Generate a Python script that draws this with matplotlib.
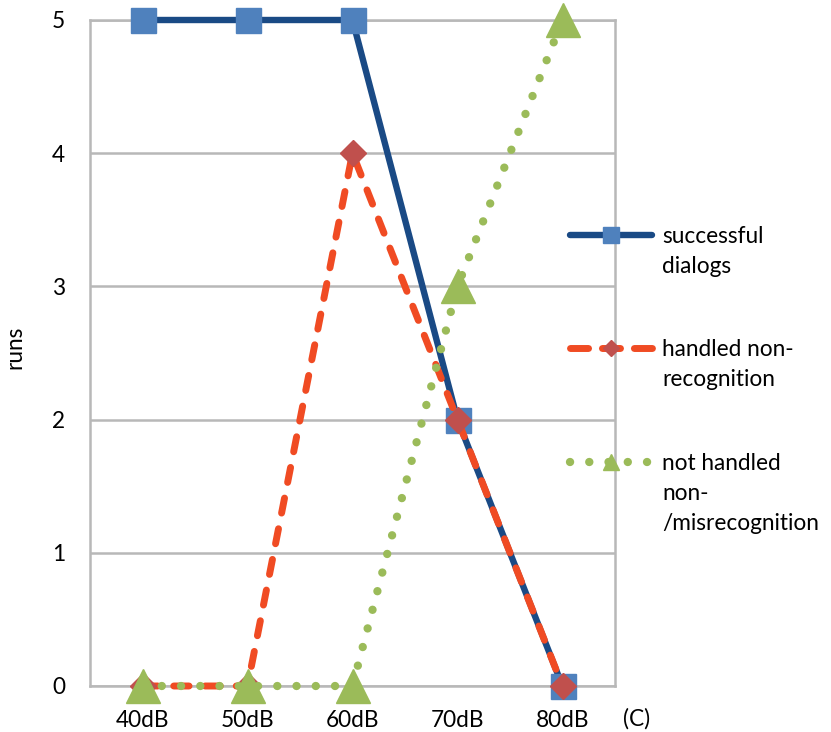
import matplotlib
matplotlib.use("Agg")
import matplotlib.pyplot as plt
from matplotlib.lines import Line2D

plt.rcParams['font.family'] = ['Lato', 'DejaVu Sans']

categories = ["40dB", "50dB", "60dB", "70dB", "80dB"]
successful = [5, 5, 5, 2, 0]
handled = [0, 0, 4, 2, 0]
not_handled = [0, 0, 0, 3, 5]
labels = [["successful", "dialogs"],
          ["handled non-", "recognition"],
          ["not handled", "non-", "/misrecognition"]]

BLUE_LINE = "#1a4a85"
BLUE_MARK = "#4f81bd"
RED_LINE = "#f04b23"
RED_MARK = "#c0504d"
GREEN = "#9bbb59"
GRID = "#b8b8b8"
FS = 16.3

W, H = 831, 732
fig = plt.figure(figsize=(W / 100, H / 100), dpi=100)
ax = fig.add_axes([90 / W, 46 / H, 525 / W, 666 / H])

x = list(range(len(categories)))

styles = [
    dict(color=BLUE_LINE, lw=4.6, ls="-", marker="s", ms=18, mfc=BLUE_MARK, mec=BLUE_MARK,
         solid_capstyle="round", solid_joinstyle="round"),
    dict(color=RED_LINE, lw=5.0, ls=(0, (2.2, 2.3)), marker="D", ms=13, mfc=RED_MARK, mec=RED_MARK,
         dash_capstyle="round"),
    dict(color=GREEN, lw=6.0, ls=(0, (0.01, 2.3)), marker="^", ms=24, mfc=GREEN, mec=GREEN,
         dash_capstyle="round"),
]
for i, (vals, st) in enumerate(zip([successful, handled, not_handled], styles)):
    ax.plot(x, vals, clip_on=False, zorder=3 + i, **st)

ax.set_xlim(-0.5, 4.5)
ax.set_ylim(0, 5)
ax.set_xticks(x)
ax.set_xticklabels(categories)
ax.set_yticks(range(6))
ax.tick_params(length=0, labelsize=FS)
ax.tick_params(axis="y", pad=18)
ax.tick_params(axis="x", pad=17)
ax.grid(axis="y", color=GRID, lw=1.8)
for s in ax.spines.values():
    s.set_color(GRID)
    s.set_linewidth(1.8)
ax.set_axisbelow(True)

fig.text(15 / W, 1 - 347 / H, "runs", fontsize=FS, rotation=90, va="center", ha="center")
fig.text(637 / W, 1 - 719 / H, "(C)", fontsize=FS, va="center", ha="center")

# legend drawn at fixed positions, marker aligned to the first text line
leg_y = [235, 348, 462]
leg_styles = [
    dict(color=BLUE_LINE, lw=4.6, ls="-", marker="s", ms=11, mfc=BLUE_MARK, mec=BLUE_MARK,
         solid_capstyle="round"),
    dict(color=RED_LINE, lw=5.0, ls=(0, (2.6, 2.0)), marker="D", ms=8.5, mfc=RED_MARK, mec=RED_MARK,
         dash_capstyle="round"),
    dict(color=GREEN, lw=6.0, ls=(0, (0.01, 2.3)), marker="^", ms=12, mfc=GREEN, mec=GREEN,
         dash_capstyle="round"),
]
for y, lines, st in zip(leg_y, labels, leg_styles):
    yf = 1 - y / H
    line_kw = {k: v for k, v in st.items() if k not in ("marker", "ms", "mfc", "mec")}
    fig.add_artist(Line2D([570 / W, 652 / W], [yf, yf], transform=fig.transFigure, **line_kw))
    fig.add_artist(Line2D([611 / W], [yf], transform=fig.transFigure, ls="none",
                          marker=st["marker"], ms=st["ms"], mfc=st["mfc"], mec=st["mec"]))
    for k, txt in enumerate(lines):
        fig.text(662 / W, 1 - (y + 8 + 30 * k) / H, txt, fontsize=FS, va="baseline", ha="left")

fig.savefig("out.png", dpi=100)
